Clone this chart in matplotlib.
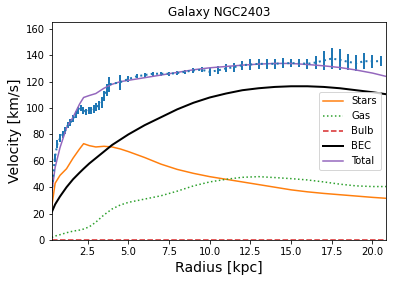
import numpy as np
import matplotlib
matplotlib.use("Agg")
import matplotlib.pyplot as plt

r_obs = [0.32, 0.48, 0.64, 0.80, 0.96, 1.12, 1.28, 1.44, 1.60, 1.76, 1.92, 2.08,
         2.24, 2.40, 2.56, 2.72, 2.88, 3.04, 3.20, 3.36, 3.52, 3.68, 3.84, 4.48,
         5.00, 5.5, 6.0, 6.5, 7.0, 7.5, 8.0, 8.5, 9.0, 9.5, 10.0, 10.5, 11.0,
         11.5, 12.0, 12.5, 13.0, 13.5, 14.0, 14.5, 15.0, 15.5, 16.0, 16.5, 17.0,
         17.5, 18.0, 18.5, 19.0, 19.5, 20.0, 20.5]
v_obs = [40, 62, 73, 77, 80, 83, 87, 89, 92, 95, 98, 100,
         98, 97, 98, 98, 99, 101, 102, 104, 109, 114, 118, 119.5,
         122, 124, 125, 126, 126, 126, 126.5, 127.5, 128.5, 129, 127.5, 128.5, 130,
         131, 132.5, 133, 133.5, 133.5, 133.5, 134, 134, 134, 133.5, 134.5, 136,
         137.5, 136.5, 135, 134, 135.5, 135.5, 135.5]
e_obs = [3, 3, 3, 3, 2.5, 2.5, 2.5, 2.5, 2.5, 2.5, 2.5, 2.5,
         2.5, 2.5, 2.5, 2.5, 3, 3, 3.5, 4, 4, 4.5, 5.5, 5.5,
         2, 1.5, 1.5, 1.5, 1.5, 1.5, 1.5, 1.5, 2, 2, 3, 3, 3,
         3.5, 3.5, 4, 4, 4, 4, 4, 3, 3, 4, 5, 7,
         8, 8, 6, 6, 6, 5, 4]

# model components
r_mod = [0.29, 0.5, 0.8, 1.2, 1.6, 2.0, 2.25, 2.6, 3.0, 3.5, 4.0, 4.5, 5.0,
         6.0, 7.0, 8.0, 9.0, 10.0, 11.0, 12.0, 13.0, 14.0, 15.0, 16.0, 17.0,
         18.0, 19.0, 20.0, 20.83]
v_stars = [25, 43, 49, 54, 62, 69, 73, 71.5, 70.5, 71, 70.5, 69, 67,
           62.5, 57.5, 53.5, 50.5, 48, 46, 44, 42, 40, 38, 36.5, 35.3,
           34.3, 33.3, 32.3, 31.6]
v_gas = [2, 3, 4, 5.5, 6.7, 7.5, 8.3, 10, 13.5, 19, 23.5, 26.5, 28.5,
         31, 33.5, 37, 41, 44, 46, 47.5, 48, 47.3, 46.5, 45.5, 44,
         42.3, 41, 40.5, 40.5]
v_bulb = [0] * len(r_mod)
v_bec = [21, 27, 33, 40, 46, 51, 54, 58, 62, 67, 72, 76, 80,
         87, 93, 99, 104, 108, 111, 113.5, 115, 116, 116.5, 116.5, 116,
         115, 113.5, 112, 110.5]
v_total = [36, 55, 70, 85, 93, 103, 108, 109.5, 111, 115, 118, 120, 121,
           123, 125, 127, 129, 130.5, 131.5, 132.5, 133.3, 133.8, 133.8, 133, 132,
           130.7, 128.8, 126.5, 124]

fig = plt.figure(figsize=(5.5, 3.9167), dpi=72)
ax = fig.add_axes([0.1306, 0.149, 0.8441, 0.772])

ax.errorbar(r_obs, v_obs, yerr=e_obs, fmt=':', color='tab:blue', lw=2, elinewidth=2)
ax.plot(r_mod, v_stars, color='tab:orange', label='Stars')
ax.plot(r_mod, v_gas, ':', color='tab:green', label='Gas')
ax.plot(r_mod, v_bulb, '--', color='tab:red', label='Bulb')
ax.plot(r_mod, v_bec, color='k', lw=2, label='BEC')
ax.plot(r_mod, v_total, color='tab:purple', label='Total')

ax.set_xlim(0.29, 20.83)
ax.set_ylim(0, 165)
ax.set_xlabel('Radius [kpc]', fontsize=14)
ax.set_ylabel('Velocity [km/s]', fontsize=14)
ax.set_title('Galaxy NGC2403')
ax.legend(loc='center right')

fig.savefig('out.png', dpi=72)
